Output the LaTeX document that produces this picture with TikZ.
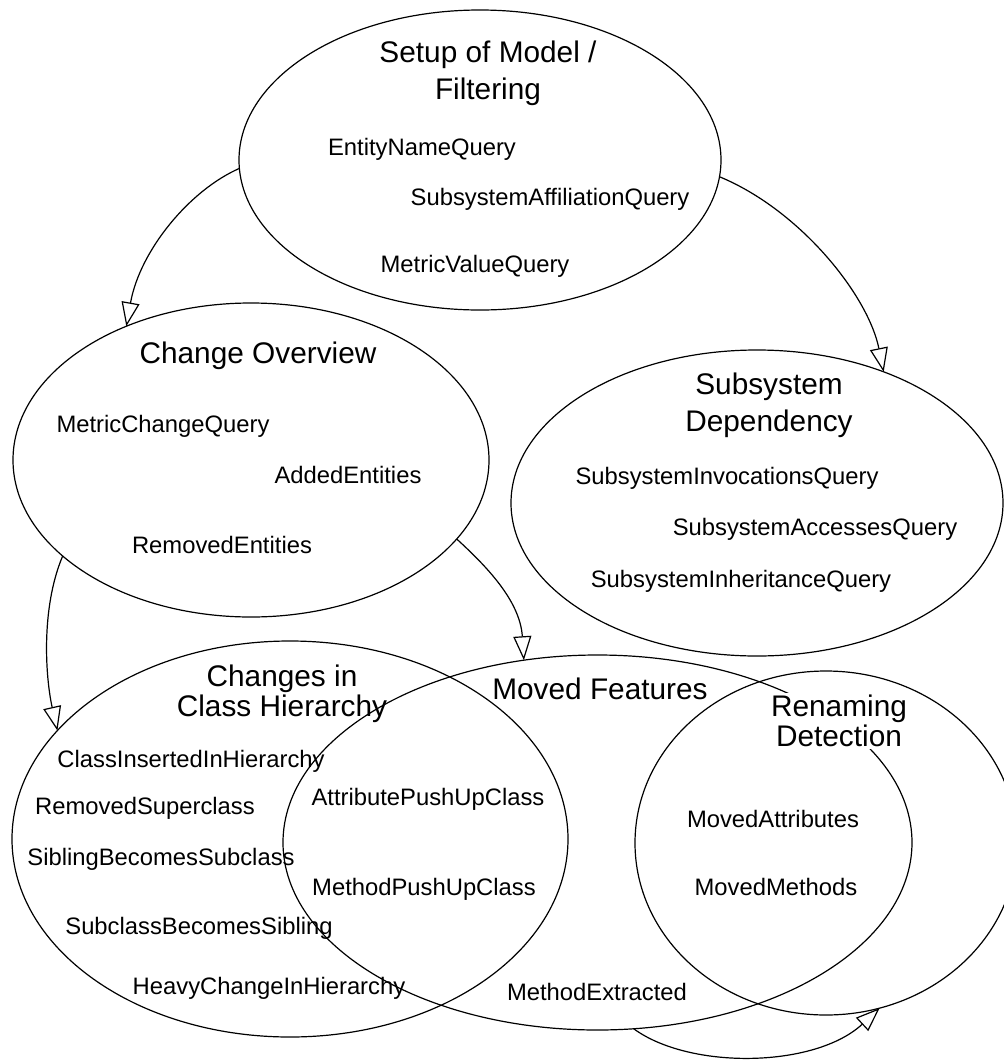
\documentclass[tikz,border=0pt]{standalone}
\usepackage{fontspec}
\setmainfont{Liberation Sans}
\usetikzlibrary{shapes.geometric,arrows.meta}
\begin{document}
\begin{tikzpicture}[x=1pt,y=-1pt,
  area/.style={draw, ellipse, line width=1.2pt, inner sep=0pt, outer sep=0pt},
  title/.style={align=center, inner sep=0pt, anchor=north},
  query/.style={font=\fontsize{23.8}{28}\selectfont, inner sep=0pt, anchor=base},
  flow/.style={line width=1.2pt, -{Triangle[length=24pt,width=18pt,fill=white]}}]
\clip (0,0) rectangle (1004,1061);

% query groups
\node[area, minimum width=482pt, minimum height=300pt] (setup) at (480,160) {};
\node[area, minimum width=476pt, minimum height=314pt] (change) at (251,460) {};
\node[area, minimum width=492pt, minimum height=306pt] (subsys) at (757,503) {};
\node[area, minimum width=556pt, minimum height=396pt] (hier) at (290,839) {};
\node[area, minimum width=629pt, minimum height=375pt] (moved) at (597.5,842.5) {};
\node[area, minimum width=382pt, minimum height=344pt] (rename) at (826,843) {};

% group titles
\node[title, font=\fontsize{29.8}{37}\selectfont] (setupT) at (488,41) {Setup of Model /\\Filtering};
\node[title, font=\fontsize{29.8}{30}\selectfont] (changeT) at (258,342) {Change Overview};
\node[title, font=\fontsize{29.8}{37}\selectfont] (subsysT) at (769,373) {Subsystem\\Dependency};
\node[title, font=\fontsize{29.8}{30}\selectfont] (hierT) at (282,665) {Changes in\\Class Hierarchy};
\node[title, font=\fontsize{29.8}{30}\selectfont] (movedT) at (600,678) {Moved Features};
\node[title, font=\fontsize{29.8}{30}\selectfont, fill=white, inner sep=2pt] (renameT) at (839,693) {Renaming\\Detection};

% queries
\node[query] (q1) at (422,155) {EntityNameQuery};
\node[query] (q2) at (550,205) {SubsystemAffiliationQuery};
\node[query] (q3) at (475,272) {MetricValueQuery};
\node[query] (q4) at (163,432) {MetricChangeQuery};
\node[query] (q5) at (348,483) {AddedEntities};
\node[query] (q6) at (222,553) {RemovedEntities};
\node[query] (q7) at (727,484) {SubsystemInvocationsQuery};
\node[query] (q8) at (815,535) {SubsystemAccessesQuery};
\node[query] (q9) at (741,587) {SubsystemInheritanceQuery};
\node[query] (q10) at (191,767) {ClassInsertedInHierarchy};
\node[query] (q11) at (145,814) {RemovedSuperclass};
\node[query] (q12) at (161,865) {SiblingBecomesSubclass};
\node[query] (q13) at (199,934) {SubclassBecomesSibling};
\node[query] (q14) at (269,994) {HeavyChangeInHierarchy};
\node[query] (q15) at (428,805) {AttributePushUpClass};
\node[query] (q16) at (424,895) {MethodPushUpClass};
\node[query] (q17) at (597,1000) {MethodExtracted};
\node[query] (q18) at (773,827) {MovedAttributes};
\node[query] (q19) at (776,895) {MovedMethods};

% dependencies between groups
\draw[flow] (setup.182) .. controls (190,190) and (140,250) .. (change.133);
\draw[flow] (setup.356) .. controls (800,210) and (868,295) .. (subsys.46);
\draw[flow] (change.207) .. controls (40,610) and (46,680) .. (hier.155);
\draw[flow] (change.339) .. controls (485,565) and (520,600) .. (moved.112.6);
\draw[flow] (moved.281) .. controls (690,1070) and (815,1068) .. (rename.288);
\end{tikzpicture}
\end{document}
